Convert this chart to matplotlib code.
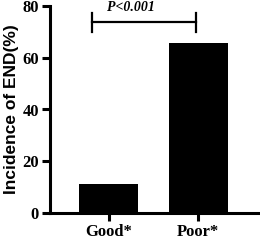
import matplotlib.pyplot as plt

categories = ["Good*", "Poor*"]
values = [11.3, 65.7]
p_text = "P<0.001"
bracket_y = 73.7

fig = plt.figure(figsize=(2.6, 2.4), dpi=100)
ax = fig.add_axes([0.192, 0.1125, 0.8, 0.8625])

x = range(len(categories))
ax.bar(x, values, width=0.66, color="black")
ax.set_xlim(-0.66, 1.67)
ax.set_ylim(0, 80)
ax.set_yticks([0, 20, 40, 60, 80])
ax.set_xticks(list(x))
ax.set_xticklabels(categories)

for lab in ax.get_xticklabels() + ax.get_yticklabels():
    lab.set_family("Liberation Serif")
    lab.set_fontweight("bold")
    lab.set_fontsize(12)
ax.set_ylabel("Incidence of END(%)", family="Liberation Sans", weight="bold", fontsize=12.5, labelpad=2)

for s in ["top", "right"]:
    ax.spines[s].set_visible(False)
for s in ["left", "bottom"]:
    ax.spines[s].set_linewidth(2.2)
ax.tick_params(width=2.2, length=6, pad=2)

# significance bracket
ax.plot([-0.19, 0.98], [bracket_y, bracket_y], color="black", lw=1.6, clip_on=False)
for bx in [-0.19, 0.98]:
    ax.plot([bx, bx], [bracket_y - 3.7, bracket_y + 3.7], color="black", lw=1.6, clip_on=False)
ax.text(0.25, 79.4, p_text, ha="center", va="center", family="Liberation Serif",
        weight="bold", style="italic", fontsize=10)

fig.savefig("out.png", dpi=100)
